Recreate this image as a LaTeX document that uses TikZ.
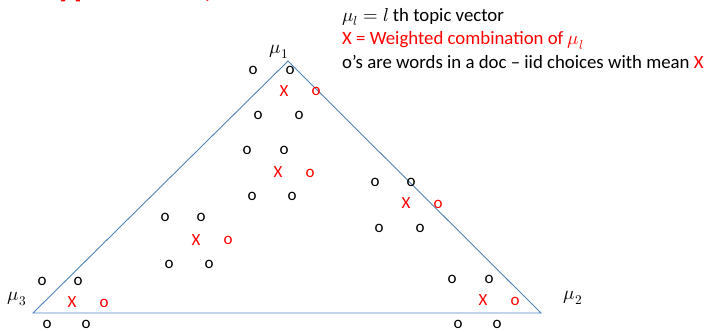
\documentclass[tikz,border=0pt]{standalone}
\usepackage{fontspec}
\usepackage{unicode-math}
\setmainfont{Carlito}
\setmathfont{Latin Modern Math}
\begin{document}
\begin{tikzpicture}[x=1pt,y=-1pt,
  wo/.style={inner sep=0pt,text=black,font=\fontsize{17}{20}\selectfont},
  ro/.style={inner sep=0pt,text=red,font=\fontsize{17}{20}\selectfont},
  rx/.style={inner sep=0pt,text=red,font=\fontsize{17}{20}\selectfont},
  lab/.style={inner sep=0pt,font=\fontsize{19}{22}\selectfont},
  leg/.style={inner sep=0pt,anchor=base west,font=\fontsize{18.8}{22}\selectfont},
  edge/.style={draw={rgb,255:red,79;green,129;blue,189},line width=0.9pt}]
\useasboundingbox (0,0) rectangle (716,332);
\clip (0,0) rectangle (716,332);
% clipped title
\node[anchor=base west,inner sep=0pt,text=red,font=\fontsize{34}{38}\bfseries\selectfont] (title) at (36,-3) {Hypothesis (};
% triangle
\coordinate (m1) at (288,61);
\coordinate (m2) at (541,313);
\coordinate (m3) at (33,313);
\draw[edge] (m1) -- (m2) -- (m3) -- cycle;
\node[lab] (l1) at (279,52) {$\mu_1$};
\node[lab] (l2) at (573,298) {$\mu_2$};
\node[lab] (l3) at (17,299) {$\mu_3$};
% legend
\node[leg] (g1) at (342,21) {$\mu_l = l$ th topic vector};
\node[leg,text=red] (g2) at (342,45) {X = Weighted combination of $\mu_l$};
\node[leg] (g3) at (342,68) {o’s are words in a doc – iid choices with mean \textcolor{red}{X}};
% apex cluster
\node[wo] (a1) at (253,70) {o};
\node[wo] (a2) at (290,70) {o};
\node[rx] (ax) at (284,91) {X};
\node[ro] (ar) at (316,91) {o};
% centre cluster
\node[wo] (c1) at (258,115) {o};
\node[wo] (c2) at (299,115) {o};
\node[wo] (c3) at (247,150) {o};
\node[wo] (c4) at (284,150) {o};
\node[rx] (cx) at (278,172) {X};
\node[ro] (cr) at (310,173) {o};
\node[wo] (c5) at (252,196) {o};
\node[wo] (c6) at (292,196) {o};
% right cluster
\node[wo] (r1) at (375,182) {o};
\node[wo] (r2) at (411,182) {o};
\node[rx] (rx) at (406,203) {X};
\node[ro] (rr) at (438,204) {o};
\node[wo] (r3) at (379,228) {o};
\node[wo] (r4) at (420,228) {o};
% left cluster
\node[wo] (p1) at (165,217) {o};
\node[wo] (p2) at (201,217) {o};
\node[rx] (px) at (196,240) {X};
\node[ro] (pr) at (228,240) {o};
\node[wo] (p3) at (169,264) {o};
\node[wo] (p4) at (209,264) {o};
% bottom-left cluster
\node[wo] (b1) at (42,281) {o};
\node[wo] (b2) at (78,281) {o};
\node[rx] (bx) at (72,302) {X};
\node[ro] (br) at (104,303) {o};
\node[wo] (b3) at (47,324) {o};
\node[wo] (b4) at (86,324) {o};
% bottom-right cluster
\node[wo] (e1) at (452,279) {o};
\node[wo] (e2) at (489,279) {o};
\node[rx] (ex) at (483,300) {X};
\node[ro] (er) at (515,301) {o};
\node[wo] (e3) at (458,324) {o};
\node[wo] (e4) at (497,324) {o};
\end{tikzpicture}
\end{document}
